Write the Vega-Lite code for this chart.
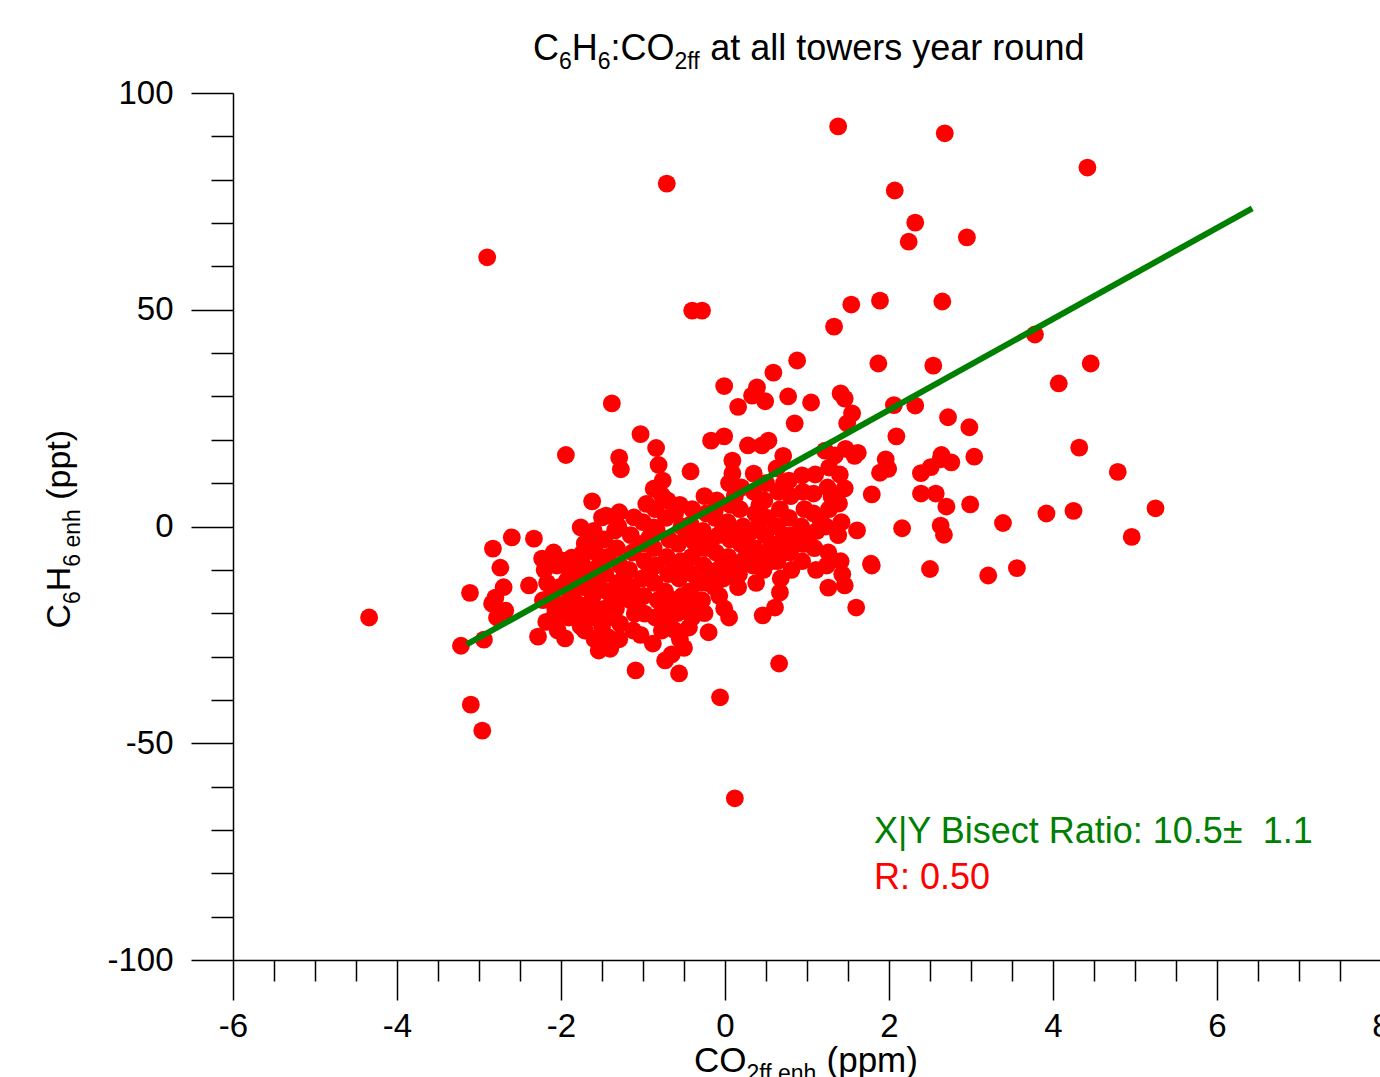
{
  "$schema": "https://vega.github.io/schema/vega-lite/v6.json",
  "width": 1148,
  "height": 867,
  "autosize": {"type": "none"},
  "padding": {"left": 233, "top": 93, "right": 0, "bottom": 117},
  "background": "white",
  "config": {"view": {"stroke": null}, "font": "Liberation Sans", "text": {"font": "Liberation Sans"}},
  "datasets": {
    "points": [
      {"x":1.38,"y":92.3},{"x":2.68,"y":90.7},{"x":-0.71,"y":79.1},{"x":4.42,"y":82.8},{"x":2.07,"y":77.5},{"x":2.32,"y":70.1},{"x":2.24,"y":65.7},{"x":2.95,"y":66.7},{"x":-2.9,"y":62.1},{"x":-0.4,"y":49.8},{"x":-0.28,"y":49.8},{"x":1.54,"y":51.2},{"x":1.89,"y":52.1},{"x":2.65,"y":51.9},{"x":1.33,"y":46.1},{"x":3.78,"y":44.3},{"x":4.07,"y":33.0},{"x":4.46,"y":37.6},{"x":1.87,"y":37.6},{"x":2.54,"y":37.1},{"x":0.88,"y":38.3},{"x":0.59,"y":35.5},{"x":-0.01,"y":32.4},{"x":0.39,"y":32.1},{"x":0.33,"y":30.2},{"x":0.49,"y":28.9},{"x":0.77,"y":30.0},{"x":1.05,"y":28.6},{"x":1.41,"y":30.7},{"x":1.46,"y":29.5},{"x":0.16,"y":27.6},{"x":2.06,"y":28.0},{"x":2.32,"y":27.9},{"x":2.72,"y":25.2},{"x":2.98,"y":22.9},{"x":1.55,"y":26.1},{"x":1.49,"y":23.8},{"x":0.85,"y":23.8},{"x":4.32,"y":18.2},{"x":4.79,"y":12.6},{"x":5.25,"y":4.2},{"x":4.96,"y":-2.4},{"x":4.25,"y":3.6},{"x":3.92,"y":3.0},{"x":3.39,"y":0.8},{"x":3.56,"y":-9.6},{"x":3.21,"y":-11.3},{"x":2.99,"y":5.1},{"x":3.04,"y":16.1},{"x":-1.38,"y":28.4},{"x":-1.03,"y":21.3},{"x":-1.94,"y":16.5},{"x":-1.29,"y":15.9},{"x":-1.27,"y":13.2},{"x":-0.84,"y":18.1},{"x":-0.81,"y":14.2},{"x":-0.76,"y":10.6},{"x":-0.42,"y":12.7},{"x":-0.17,"y":19.8},{"x":-0.01,"y":20.8},{"x":0.09,"y":15.2},{"x":0.09,"y":12.2},{"x":0.28,"y":18.7},{"x":0.53,"y":19.8},{"x":0.45,"y":18.7},{"x":0.71,"y":16.3},{"x":0.35,"y":12.2},{"x":0.63,"y":13.4},{"x":1.47,"y":17.9},{"x":1.62,"y":17.0},{"x":1.58,"y":16.3},{"x":2.09,"y":20.8},{"x":1.96,"y":15.5},{"x":1.89,"y":12.4},{"x":1.99,"y":13.3},{"x":2.39,"y":12.3},{"x":2.51,"y":13.7},{"x":2.63,"y":15.5},{"x":2.64,"y":16.5},{"x":2.76,"y":14.8},{"x":2.39,"y":7.6},{"x":2.57,"y":7.6},{"x":2.7,"y":4.6},{"x":1.79,"y":7.4},{"x":2.16,"y":-0.4},{"x":2.63,"y":0.2},{"x":2.67,"y":-1.9},{"x":1.61,"y":-0.9},{"x":1.78,"y":-8.6},{"x":2.5,"y":-9.8},{"x":1.6,"y":-18.7},{"x":1.22,"y":17.5},{"x":1.34,"y":16.4},{"x":1.27,"y":13.6},{"x":0.78,"y":10.6},{"x":0.94,"y":11.8},{"x":1.46,"y":8.8},{"x":1.08,"y":7.6},{"x":1.3,"y":6.8},{"x":1.39,"y":5.3},
      {"x":-1.62,"y":5.8},{"x":-0.96,"y":5.2},{"x":-1.5,"y":2.1},{"x":-1.29,"y":3.3},{"x":-1.11,"y":2.1},{"x":-1.34,"y":-0.9},{"x":-0.87,"y":-0.2},{"x":-0.61,"y":2.9},{"x":-1.76,"y":-0.2},{"x":-2.6,"y":-2.5},{"x":-2.33,"y":-2.8},{"x":-2.83,"y":-5.1},{"x":-2.74,"y":-9.5},{"x":-2.23,"y":-7.4},{"x":-2.09,"y":-6.0},{"x":-1.99,"y":-7.8},{"x":-1.87,"y":-7.2},{"x":-1.74,"y":-6.2},{"x":-1.71,"y":-3.9},{"x":-1.62,"y":-3.2},{"x":-0.87,"y":8.7},{"x":-0.77,"y":7.2},
      {"x":-3.11,"y":-15.3},{"x":-2.8,"y":-16.4},{"x":-2.7,"y":-14.0},{"x":-2.84,"y":-17.8},{"x":-2.68,"y":-19.4},{"x":-2.78,"y":-21.0},{"x":-2.39,"y":-13.6},{"x":-2.94,"y":-26.1},{"x":-3.22,"y":-27.5},{"x":-2.28,"y":-25.4},{"x":-2.09,"y":-21.0},{"x":-1.95,"y":-25.8},{"x":-1.54,"y":-28.6},{"x":-1.4,"y":-28.2},{"x":-1.09,"y":-33.2},{"x":-0.65,"y":-29.5},{"x":-0.73,"y":-30.9},{"x":-0.56,"y":-33.9},{"x":-1.1,"y":-20.1},{"x":0.66,"y":-31.6},{"x":-0.06,"y":-39.4},{"x":-3.1,"y":-41.1},{"x":-2.96,"y":-47.1},{"x":0.12,"y":-62.7},{"x":-4.34,"y":-21.0},{"x":1.79,"y":-9.0},{"x":1.26,"y":-14.1},{"x":1.46,"y":-13.6},{"x":0.46,"y":-20.5},{"x":0.61,"y":-18.7},{"x":0.67,"y":-15.2},{"x":0.16,"y":-14.0},{"x":-0.01,"y":-18.9},{"x":0.05,"y":-21.0},{"x":-0.2,"y":-24.4},{"x":-0.44,"y":-23.3},{"x":-0.61,"y":-24.0},{"x":-0.77,"y":-24.0},{"x":-0.85,"y":-21.0},{"x":-0.98,"y":-20.1},{"x":-1.28,"y":-22.4},{"x":-1.42,"y":-25.6},{"x":-1.5,"y":-23.3},{"x":-1.71,"y":-24.0},{"x":-1.62,"y":-21.0},{"x":-1.78,"y":-19.4},{"x":-1.66,"y":-17.8},
      {"x":-2.2,"y":-10},{"x":-2.17,"y":-13},{"x":-2.22,"y":-17},{"x":-2.18,"y":-22},
      {"x":-2.05,"y":-9},{"x":-2.02,"y":-14},{"x":-2.07,"y":-19},{"x":-2.04,"y":-24},
      {"x":-1.9,"y":-10},{"x":-1.93,"y":-12.5},{"x":-1.88,"y":-16},{"x":-1.91,"y":-21},
      {"x":-1.75,"y":-8},{"x":-1.78,"y":-11},{"x":-1.73,"y":-14},{"x":-1.76,"y":-23},
      {"x":-1.6,"y":-1},{"x":-1.58,"y":-6},{"x":-1.62,"y":-10},{"x":-1.57,"y":-13},{"x":-1.61,"y":-16},{"x":-1.59,"y":-26},
      {"x":-1.45,"y":2.5},{"x":-1.47,"y":-3},{"x":-1.43,"y":-7},{"x":-1.46,"y":-11},{"x":-1.44,"y":-15},{"x":-1.48,"y":-19},{"x":-1.42,"y":-21},
      {"x":-1.3,"y":0},{"x":-1.32,"y":-5},{"x":-1.28,"y":-9},{"x":-1.31,"y":-13},{"x":-1.27,"y":-16},{"x":-1.33,"y":-19},{"x":-1.29,"y":-26},
      {"x":-1.15,"y":-2},{"x":-1.13,"y":-6},{"x":-1.17,"y":-10},{"x":-1.14,"y":-14},{"x":-1.16,"y":-17},{"x":-1.12,"y":-24},
      {"x":-1.0,"y":1},{"x":-1.02,"y":-4},{"x":-0.98,"y":-8},{"x":-1.01,"y":-12},{"x":-0.99,"y":-16},{"x":-1.03,"y":-25},
      {"x":-0.85,"y":4},{"x":-0.83,"y":-1},{"x":-0.87,"y":-5},{"x":-0.84,"y":-9},{"x":-0.86,"y":-13},{"x":-0.82,"y":-17},{"x":-0.88,"y":-27},
      {"x":-0.7,"y":6},{"x":-0.72,"y":2},{"x":-0.68,"y":-3},{"x":-0.71,"y":-7},{"x":-0.69,"y":-11},{"x":-0.73,"y":-15},{"x":-0.67,"y":-19},{"x":-0.7,"y":-22},
      {"x":-0.55,"y":5},{"x":-0.53,"y":0},{"x":-0.57,"y":-4},{"x":-0.54,"y":-8},{"x":-0.56,"y":-12},{"x":-0.52,"y":-16},{"x":-0.58,"y":-20},{"x":-0.55,"y":-26},{"x":-0.5,"y":-28},
      {"x":-0.4,"y":4},{"x":-0.42,"y":0.5},{"x":-0.38,"y":-3.5},{"x":-0.41,"y":-7},{"x":-0.39,"y":-11},{"x":-0.43,"y":-15},{"x":-0.37,"y":-19},{"x":-0.4,"y":-21},
      {"x":-0.25,"y":7},{"x":-0.23,"y":3},{"x":-0.27,"y":-1},{"x":-0.24,"y":-5},{"x":-0.26,"y":-9},{"x":-0.22,"y":-13},{"x":-0.28,"y":-17},{"x":-0.25,"y":-20},
      {"x":-0.1,"y":6},{"x":-0.12,"y":2},{"x":-0.08,"y":-2},{"x":-0.11,"y":-6},{"x":-0.09,"y":-10},{"x":-0.13,"y":-14},{"x":-0.07,"y":-16},
      {"x":0.05,"y":10},{"x":0.07,"y":5},{"x":0.03,"y":1},{"x":0.06,"y":-3},{"x":0.04,"y":-7},{"x":0.08,"y":-11},
      {"x":0.2,"y":9},{"x":0.18,"y":4},{"x":0.22,"y":0},{"x":0.19,"y":-4},{"x":0.21,"y":-8},{"x":0.17,"y":-11},
      {"x":0.35,"y":8},{"x":0.37,"y":3},{"x":0.33,"y":-1},{"x":0.36,"y":-5},{"x":0.34,"y":-9},{"x":0.38,"y":-13},
      {"x":0.5,"y":10},{"x":0.48,"y":6},{"x":0.52,"y":2},{"x":0.49,"y":-2},{"x":0.51,"y":-6},{"x":0.47,"y":-10},
      {"x":0.65,"y":8},{"x":0.67,"y":4},{"x":0.63,"y":0},{"x":0.66,"y":-4},{"x":0.64,"y":-8},{"x":0.68,"y":-12},
      {"x":0.8,"y":7},{"x":0.78,"y":2},{"x":0.82,"y":-2},{"x":0.79,"y":-6},{"x":0.81,"y":-10},
      {"x":0.95,"y":8},{"x":0.97,"y":4},{"x":0.93,"y":0},{"x":0.96,"y":-4},{"x":0.94,"y":-8},
      {"x":1.1,"y":12},{"x":1.08,"y":3},{"x":1.12,"y":-1},{"x":1.09,"y":-5},{"x":1.11,"y":-10},
      {"x":1.25,"y":9},{"x":1.27,"y":4},{"x":1.23,"y":0},{"x":1.26,"y":-6},{"x":1.24,"y":-9},
      {"x":1.4,"y":12},{"x":1.42,"y":1},{"x":1.38,"y":-2},{"x":1.41,"y":-8},{"x":1.43,"y":-11},
      {"x":-1.52,"y":-8.5},{"x":-1.37,"y":-17},{"x":-1.22,"y":-11},{"x":-1.07,"y":-18},{"x":-0.92,"y":-2.5},{"x":-0.92,"y":-10.5},{"x":-0.77,"y":-18},{"x":-0.62,"y":-9},{"x":-0.62,"y":-17},{"x":-0.47,"y":-2},{"x":-0.47,"y":-10},{"x":-0.47,"y":-18},{"x":-0.32,"y":-5},{"x":-0.32,"y":-13},{"x":-0.17,"y":-3},{"x":-0.17,"y":-11},{"x":-0.02,"y":0},{"x":-0.02,"y":-8},{"x":-0.02,"y":-12},{"x":0.12,"y":-1},{"x":0.12,"y":-9},{"x":0.27,"y":-2},{"x":0.27,"y":-6},{"x":0.42,"y":1},{"x":0.42,"y":-7},{"x":0.57,"y":-4},{"x":0.57,"y":-8},{"x":0.72,"y":-2},{"x":0.72,"y":-6},{"x":0.87,"y":-4},{"x":1.02,"y":-2},{"x":1.17,"y":1},{"x":-1.82,"y":-17.5},{"x":-1.67,"y":-12},{"x":-2.12,"y":-16},{"x":-1.97,"y":-18},{"x":-0.12,"y":4},{"x":0.12,"y":7},{"x":0.42,"y":5},{"x":0.72,"y":10}
    ],
    "fit": [{"x": -3.15, "y": -27.2}, {"x": 6.43, "y": 73.4}]
  },
  "layer": [
    {
      "data": {"name": "points"},
      "mark": {"type": "circle", "color": "#ff0000", "opacity": 1, "size": 318},
      "encoding": {
        "x": {
          "field": "x", "type": "quantitative",
          "scale": {"domain": [-6, 8], "nice": false, "zero": false},
          "axis": {
            "values": [-6,-5.5,-5,-4.5,-4,-3.5,-3,-2.5,-2,-1.5,-1,-0.5,0,0.5,1,1.5,2,2.5,3,3.5,4,4.5,5,5.5,6,6.5,7,7.5,8],
            "tickSize": {"condition": {"test": "datum.value % 2 === 0", "value": 40}, "value": 21},
            "labelExpr": "datum.value % 2 === 0 ? '' + datum.value : ''",
            "labelFontSize": 33, "labelFont": "Liberation Sans", "labelColor": "black", "labelPadding": 10,
            "domainColor": "black", "domainWidth": 1.5, "tickColor": "black", "tickWidth": 1.5,
            "grid": false, "title": null, "labelOverlap": false, "labelBound": false, "labelFlush": false
          }
        },
        "y": {
          "field": "y", "type": "quantitative",
          "scale": {"domain": [-100, 100], "nice": false, "zero": false},
          "axis": {
            "values": [-100,-90,-80,-70,-60,-50,-40,-30,-20,-10,0,10,20,30,40,50,60,70,80,90,100],
            "tickSize": {"condition": {"test": "datum.value % 50 === 0", "value": 42}, "value": 22},
            "labelExpr": "datum.value % 50 === 0 ? '' + datum.value : ''",
            "labelFontSize": 33, "labelFont": "Liberation Sans", "labelColor": "black", "labelPadding": 18,
            "domainColor": "black", "domainWidth": 1.5, "tickColor": "black", "tickWidth": 1.5,
            "grid": false, "title": null, "labelOverlap": false, "labelBound": false, "labelFlush": false
          }
        }
      }
    },
    {
      "data": {"name": "fit"},
      "mark": {"type": "line", "color": "#008000", "strokeWidth": 6},
      "encoding": {"x": {"field": "x", "type": "quantitative"}, "y": {"field": "y", "type": "quantitative"}}
    },
    {"data": {"values": [{}]}, "mark": {"type": "text", "text": "X|Y Bisect Ratio: 10.5±\u00a0 1.1", "fontSize": 36, "color": "#008000", "align": "left", "baseline": "alphabetic"},
     "encoding": {"x": {"datum": 1.817, "type": "quantitative"}, "y": {"datum": -73.1, "type": "quantitative"}}},
    {"data": {"values": [{}]}, "mark": {"type": "text", "text": "R: 0.50", "fontSize": 36, "color": "#ff0000", "align": "left", "baseline": "alphabetic"},
     "encoding": {"x": {"datum": 1.817, "type": "quantitative"}, "y": {"datum": -83.7, "type": "quantitative"}}},
    {"data": {"values": [{}]}, "mark": {"type": "text", "text": "C", "fontSize": 36, "color": "black", "align": "left", "baseline": "alphabetic"},
     "encoding": {"x": {"datum": -2.341, "type": "quantitative"}, "y": {"datum": 107.5, "type": "quantitative"}}},
    {"data": {"values": [{}]}, "mark": {"type": "text", "text": "6", "fontSize": 23, "color": "black", "align": "left", "baseline": "alphabetic"},
     "encoding": {"x": {"datum": -2.024, "type": "quantitative"}, "y": {"datum": 105.65, "type": "quantitative"}}},
    {"data": {"values": [{}]}, "mark": {"type": "text", "text": "H", "fontSize": 36, "color": "black", "align": "left", "baseline": "alphabetic"},
     "encoding": {"x": {"datum": -1.868, "type": "quantitative"}, "y": {"datum": 107.5, "type": "quantitative"}}},
    {"data": {"values": [{}]}, "mark": {"type": "text", "text": "6", "fontSize": 23, "color": "black", "align": "left", "baseline": "alphabetic"},
     "encoding": {"x": {"datum": -1.551, "type": "quantitative"}, "y": {"datum": 105.65, "type": "quantitative"}}},
    {"data": {"values": [{}]}, "mark": {"type": "text", "text": ":CO", "fontSize": 36, "color": "black", "align": "left", "baseline": "alphabetic"},
     "encoding": {"x": {"datum": -1.395, "type": "quantitative"}, "y": {"datum": 107.5, "type": "quantitative"}}},
    {"data": {"values": [{}]}, "mark": {"type": "text", "text": "2ff", "fontSize": 23, "color": "black", "align": "left", "baseline": "alphabetic"},
     "encoding": {"x": {"datum": -0.615, "type": "quantitative"}, "y": {"datum": 105.65, "type": "quantitative"}}},
    {"data": {"values": [{}]}, "mark": {"type": "text", "text": "at all towers year round", "fontSize": 36, "color": "black", "align": "left", "baseline": "alphabetic"},
     "encoding": {"x": {"datum": -0.18, "type": "quantitative"}, "y": {"datum": 107.5, "type": "quantitative"}}},
    {"data": {"values": [{}]}, "mark": {"type": "text", "text": "C", "fontSize": 34, "color": "black", "align": "left", "baseline": "alphabetic", "angle": 270},
     "encoding": {"x": {"datum": -7.982, "type": "quantitative"}, "y": {"datum": -23.53, "type": "quantitative"}}},
    {"data": {"values": [{}]}, "mark": {"type": "text", "text": "6", "fontSize": 23, "color": "black", "align": "left", "baseline": "alphabetic", "angle": 270},
     "encoding": {"x": {"datum": -7.866, "type": "quantitative"}, "y": {"datum": -17.88, "type": "quantitative"}}},
    {"data": {"values": [{}]}, "mark": {"type": "text", "text": "H", "fontSize": 34, "color": "black", "align": "left", "baseline": "alphabetic", "angle": 270},
     "encoding": {"x": {"datum": -7.982, "type": "quantitative"}, "y": {"datum": -14.93, "type": "quantitative"}}},
    {"data": {"values": [{}]}, "mark": {"type": "text", "text": "6 enh", "fontSize": 23, "color": "black", "align": "left", "baseline": "alphabetic", "angle": 270},
     "encoding": {"x": {"datum": -7.866, "type": "quantitative"}, "y": {"datum": -9.27, "type": "quantitative"}}},
    {"data": {"values": [{}]}, "mark": {"type": "text", "text": "(ppt)", "fontSize": 34, "color": "black", "align": "left", "baseline": "alphabetic", "angle": 270},
     "encoding": {"x": {"datum": -7.982, "type": "quantitative"}, "y": {"datum": 6.16, "type": "quantitative"}}},
    {"data": {"values": [{}]}, "mark": {"type": "text", "text": "CO", "fontSize": 35, "color": "black", "align": "left", "baseline": "alphabetic"},
     "encoding": {"x": {"datum": -0.378, "type": "quantitative"}, "y": {"datum": -125.95, "type": "quantitative"}}},
    {"data": {"values": [{}]}, "mark": {"type": "text", "text": "2ff enh", "fontSize": 23, "color": "black", "align": "left", "baseline": "alphabetic"},
     "encoding": {"x": {"datum": 0.262, "type": "quantitative"}, "y": {"datum": -127.8, "type": "quantitative"}}},
    {"data": {"values": [{}]}, "mark": {"type": "text", "text": "(ppm)", "fontSize": 35, "color": "black", "align": "left", "baseline": "alphabetic"},
     "encoding": {"x": {"datum": 1.238, "type": "quantitative"}, "y": {"datum": -125.95, "type": "quantitative"}}}
  ]
}
